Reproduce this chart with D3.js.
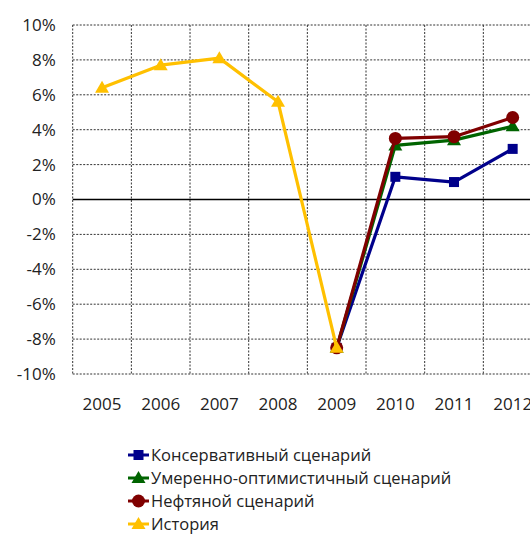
<!DOCTYPE html>
<html><head><meta charset="utf-8">
<script src="https://cdn.jsdelivr.net/npm/d3@7"></script>
<style>body{margin:0;background:#fff}svg{display:block}text{font-family:"Open Sans","DejaVu Sans",sans-serif;fill:#222}</style>
</head><body><svg id="c" width="530" height="534"></svg>
<script>
const years = ["2005","2006","2007","2008","2009","2010","2011","2012"];
const yTicks = [-10,-8,-6,-4,-2,0,2,4,6,8,10];
const conservative = [null,null,null,null,-8.5,1.3,1.0,2.9];
const moderate = [null,null,null,null,-8.5,3.1,3.4,4.2];
const oil = [null,null,null,null,-8.5,3.5,3.6,4.7];
const history = [6.4,7.7,8.1,5.6,-8.5,null,null,null];
const seriesNames = ["Консервативный сценарий","Умеренно-оптимистичный сценарий","Нефтяной сценарий","История"];
const seriesColors = ["#00008B","#006400","#800000","#FFC000"];
const seriesMarkers = ["square","triangle","circle","triangle"];

const svg = d3.select("#c");
const pLeft = 72.7, pRight = 542, pTop = 25, pBottom = 374;
const x = d3.scaleBand().domain(years).range([pLeft,pRight]);
const y = d3.scaleLinear().domain([-10,10]).range([pBottom,pTop]);

// grid
const g = svg.append("g");
g.selectAll(".hg").data(yTicks.filter(d=>d!==0)).enter().append("line")
 .attr("x1",pLeft).attr("x2",pRight).attr("y1",d=>y(d)).attr("y2",d=>y(d))
 .attr("stroke","#333").attr("stroke-width",1).attr("stroke-dasharray","2,1.5");
const vx = years.map(d=>x(d)).concat([pRight]);
g.selectAll(".vg").data(vx).enter().append("line")
 .attr("x1",d=>d).attr("x2",d=>d).attr("y1",pTop).attr("y2",pBottom)
 .attr("stroke","#333").attr("stroke-width",1).attr("stroke-dasharray","2,1.5");
g.append("line").attr("x1",pLeft).attr("x2",pRight).attr("y1",y(0)).attr("y2",y(0))
 .attr("stroke","#000").attr("stroke-width",1.5);

// axes labels
const yAxis = d3.axisLeft(y).tickValues(yTicks).tickFormat(d=>d+"%").tickSize(0).tickPadding(17);
const ya = svg.append("g").attr("transform",`translate(${pLeft},0)`).call(yAxis);
ya.select(".domain").remove();
ya.selectAll("text").style("font-size","17px").attr("fill","#222").style("font-family",'"Open Sans","DejaVu Sans",sans-serif');
const xAxis = d3.axisBottom(x).tickSize(0).tickPadding(24);
const xa = svg.append("g").attr("transform",`translate(0,${pBottom})`).call(xAxis);
xa.select(".domain").remove();
xa.selectAll("text").style("font-size","17px").attr("fill","#222").style("font-family",'"Open Sans","DejaVu Sans",sans-serif');

const allSeries = [conservative, moderate, oil, history];
const cx = d=>x(d)+x.bandwidth()/2;
function marker(sel, type, color, px, py){
  if(type==="square") sel.append("rect").attr("x",px-5).attr("y",py-5).attr("width",10).attr("height",10).attr("fill",color);
  else if(type==="circle") sel.append("circle").attr("cx",px).attr("cy",py).attr("r",6.5).attr("fill",color);
  else sel.append("path").attr("d",`M${px},${py-7}L${px+7},${py+5}L${px-7},${py+5}Z`).attr("fill",color);
}
const order = [0,1,2,3];
order.forEach(i=>{
  const data = years.map((yr,j)=>({yr,v:allSeries[i][j]})).filter(d=>d.v!==null);
  const line = d3.line().x(d=>cx(d.yr)).y(d=>y(d.v));
  svg.append("path").datum(data).attr("d",line).attr("fill","none")
    .attr("stroke",seriesColors[i]).attr("stroke-width",3.2).attr("stroke-linejoin","round");
  const mg = svg.append("g");
  data.forEach(d=>marker(mg, seriesMarkers[i], seriesColors[i], cx(d.yr), y(d.v)));
});

// legend
const lg = svg.append("g");
seriesNames.forEach((n,i)=>{
  const ly = 455 + i*23;
  lg.append("line").attr("x1",128).attr("x2",149).attr("y1",ly).attr("y2",ly).attr("stroke",seriesColors[i]).attr("stroke-width",3);
  marker(lg, seriesMarkers[i], seriesColors[i], 138.5, ly);
  lg.append("text").attr("x",151).attr("y",ly).attr("dy","0.35em").style("font-size","16.5px").text(n);
});
</script></body></html>
